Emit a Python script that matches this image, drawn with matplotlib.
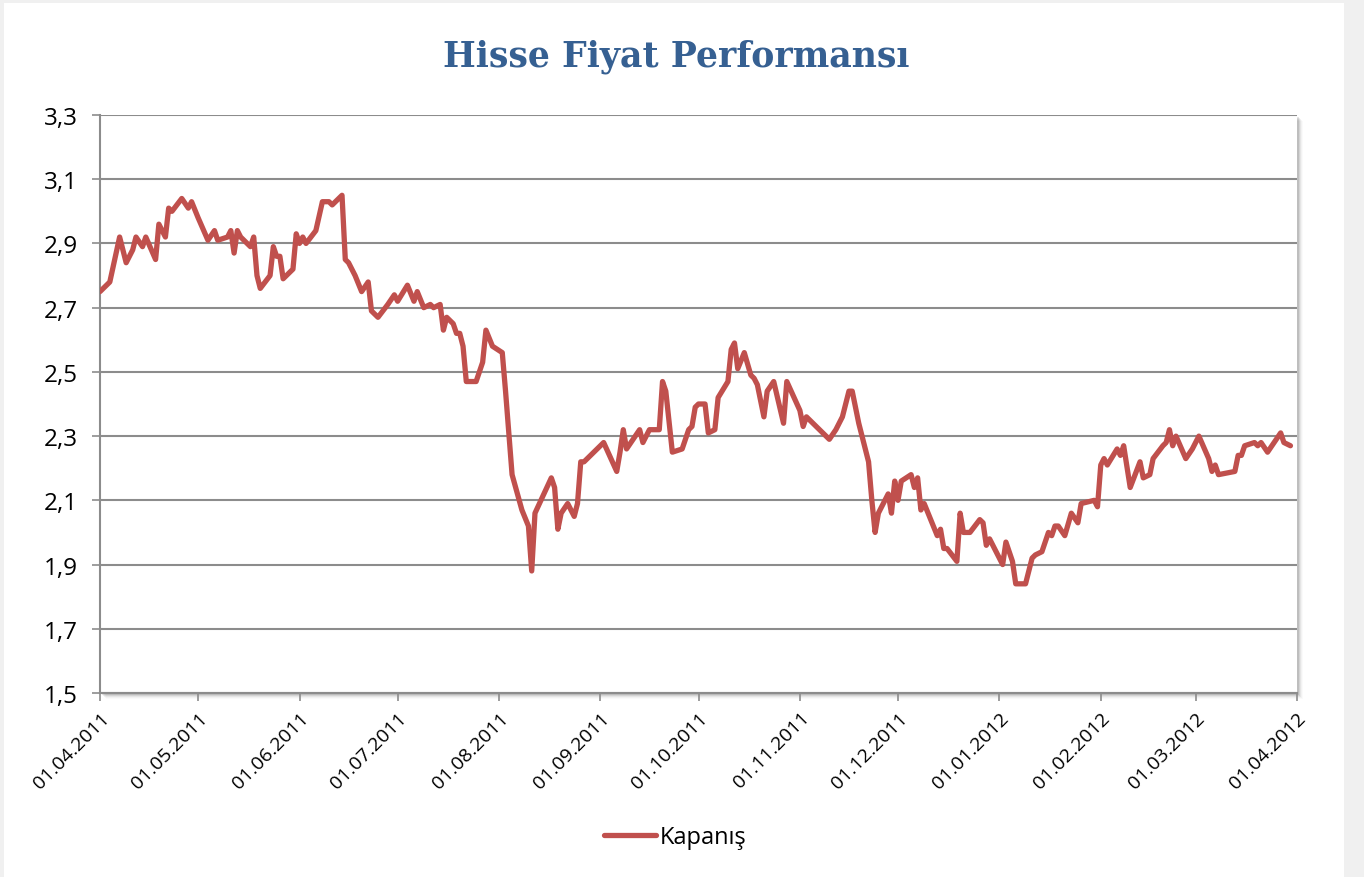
import matplotlib
matplotlib.use("Agg")
import matplotlib.pyplot as plt
import matplotlib.dates as mdates
from matplotlib.patches import Rectangle
import pandas as pd

# closing price, days counted from 01.04.2011
start = "2011-04-01"
days = [0, 3, 6, 8, 10, 11, 13, 14, 17, 18, 20, 21, 22, 25, 27, 28, 30, 33, 35, 36,
        39, 40, 41, 42, 43, 46, 47, 48, 49, 52, 53, 54, 55, 56, 59, 60, 61, 62, 63, 66,
        68, 70, 71, 74, 75, 76, 78, 80, 82, 83, 85, 88, 90, 91, 94, 96, 97, 99, 101, 102,
        104, 105, 106, 108, 109, 110, 111, 112, 115, 116, 117, 118, 120, 123, 124, 126, 129, 131, 132, 133,
        138, 139, 140, 141, 143, 145, 146, 147, 148, 154, 158, 159, 160, 161, 165, 166, 168, 171, 172, 173,
        175, 178, 180, 181, 182, 183, 185, 186, 188, 189, 192, 193, 194, 195, 197, 199, 200, 201, 203, 204,
        206, 209, 210, 214, 215, 216, 223, 225, 227, 229, 230, 232, 235, 236, 237, 238, 241, 242, 243, 244,
        245, 248, 249, 250, 251, 252, 256, 257, 258, 259, 262, 263, 264, 266, 269, 270, 271, 272, 276, 277,
        279, 280, 283, 285, 286, 288, 290, 291, 292, 293, 295, 297, 299, 300, 304, 305, 306, 307, 308, 311,
        312, 313, 315, 318, 319, 321, 322, 325, 326, 327, 328, 329, 332, 334, 336, 339, 340, 341, 342, 347,
        348, 349, 350, 353, 354, 355, 357, 361, 362, 364]
kapanis = [2.75, 2.78, 2.92, 2.84, 2.88, 2.92, 2.89, 2.92, 2.85, 2.96, 2.92, 3.01, 3.00, 3.04, 3.01, 3.03, 2.98, 2.91, 2.94, 2.91,
           2.92, 2.94, 2.87, 2.94, 2.92, 2.89, 2.92, 2.80, 2.76, 2.80, 2.89, 2.86, 2.86, 2.79, 2.82, 2.93, 2.90, 2.92, 2.90, 2.94,
           3.03, 3.03, 3.02, 3.05, 2.85, 2.84, 2.80, 2.75, 2.78, 2.69, 2.67, 2.71, 2.74, 2.72, 2.77, 2.72, 2.75, 2.70, 2.71, 2.70,
           2.71, 2.63, 2.67, 2.65, 2.62, 2.62, 2.58, 2.47, 2.47, 2.50, 2.53, 2.63, 2.58, 2.56, 2.44, 2.18, 2.07, 2.02, 1.88, 2.06,
           2.17, 2.14, 2.01, 2.06, 2.09, 2.05, 2.09, 2.22, 2.22, 2.28, 2.19, 2.25, 2.32, 2.26, 2.32, 2.28, 2.32, 2.32, 2.47, 2.44,
           2.25, 2.26, 2.32, 2.33, 2.39, 2.40, 2.40, 2.31, 2.32, 2.42, 2.47, 2.57, 2.59, 2.51, 2.56, 2.49, 2.48, 2.46, 2.36, 2.44,
           2.47, 2.34, 2.47, 2.38, 2.33, 2.36, 2.29, 2.32, 2.36, 2.44, 2.44, 2.34, 2.22, 2.10, 2.00, 2.06, 2.12, 2.06, 2.16, 2.10,
           2.16, 2.18, 2.14, 2.17, 2.07, 2.09, 1.99, 2.01, 1.95, 1.95, 1.91, 2.06, 2.00, 2.00, 2.04, 2.03, 1.96, 1.98, 1.90, 1.97,
           1.91, 1.84, 1.84, 1.92, 1.93, 1.94, 2.00, 1.99, 2.02, 2.02, 1.99, 2.06, 2.03, 2.09, 2.10, 2.08, 2.21, 2.23, 2.21, 2.26,
           2.24, 2.27, 2.14, 2.22, 2.17, 2.18, 2.23, 2.27, 2.28, 2.32, 2.27, 2.30, 2.23, 2.26, 2.30, 2.23, 2.19, 2.21, 2.18, 2.19,
           2.24, 2.24, 2.27, 2.28, 2.27, 2.28, 2.25, 2.31, 2.28, 2.27]
y_ticks = [1.5, 1.7, 1.9, 2.1, 2.3, 2.5, 2.7, 2.9, 3.1, 3.3]

dates = pd.Timestamp(start) + pd.to_timedelta(days, unit="D")
ser = pd.Series(kapanis, index=dates)

W, H = 1364, 878
fig = plt.figure(figsize=(W / 100, H / 100), dpi=100)
fig.patch.set_facecolor("#f0f0f0")
# white chart card
fig.patches.append(Rectangle((4 / W, 0), 1340 / W, 874 / H, transform=fig.transFigure,
                             facecolor="white", edgecolor="none", zorder=-3))

left, bottom, width, height = 100 / W, 1 - 694 / H, 1197 / W, 578 / H
ax = fig.add_axes([left, bottom, width, height])

# soft shadow of plot area (right and bottom)
for i, a in enumerate([0.10, 0.07, 0.05, 0.03, 0.02]):
    fig.patches.append(Rectangle((left + (i + 2) / W, bottom - (i + 2) / H), width, height,
                                 transform=fig.transFigure, facecolor="black", alpha=a,
                                 edgecolor="none", zorder=-1))

ax.set_facecolor("white")
ax.plot(ser.index, ser.values, color="#C0504D", lw=3.8, solid_joinstyle="round",
        solid_capstyle="round", label="Kapanış", zorder=3)

ax.set_xlim(pd.Timestamp("2011-04-01"), pd.Timestamp("2012-04-01"))
ax.set_ylim(1.5, 3.3)
ax.set_yticks(y_ticks)
ax.set_yticklabels([f"{v:.1f}".replace(".", ",") for v in y_ticks])
ax.xaxis.set_major_locator(mdates.MonthLocator())
ax.xaxis.set_major_formatter(mdates.DateFormatter("%d.%m.%Y"))
ax.grid(axis="y", color="#8c8c8c", lw=1.5)
ax.set_axisbelow(True)

for s in ["top", "right"]:
    ax.spines[s].set_visible(False)
for s in ["left", "bottom"]:
    ax.spines[s].set_color("#8c8c8c")
    ax.spines[s].set_linewidth(1.5)

ax.tick_params(axis="y", length=6, width=1.2, color="#8c8c8c", labelsize=17.5, pad=10)
ax.tick_params(axis="x", length=6, width=1.2, color="#8c8c8c", labelsize=14, pad=5)
for lab in ax.get_yticklabels() + ax.get_xticklabels():
    lab.set_fontfamily("Open Sans")
plt.setp(ax.get_xticklabels(), rotation=45, ha="right", rotation_mode="anchor")

fig.text(676 / W, 1 - 57 / H, "Hisse Fiyat Performansı", ha="center", va="center",
         fontsize=25, fontweight="bold", color="#366092", family="DejaVu Serif")

leg = fig.legend(loc="center", bbox_to_anchor=(675 / W, 1 - 838 / H), frameon=False,
                 handlelength=2.2, handletextpad=0.15, prop={"family": "Open Sans", "size": 17})

fig.savefig("out.png", dpi=100, facecolor=fig.get_facecolor())
